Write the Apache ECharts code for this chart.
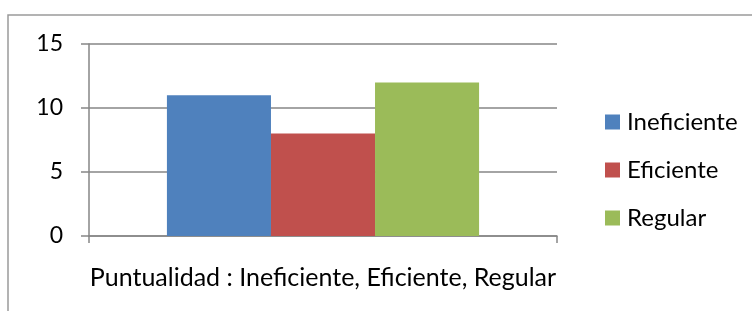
<!DOCTYPE html>
<html><head><meta charset="utf-8">
<script src="https://cdn.jsdelivr.net/npm/echarts@6/dist/echarts.min.js"></script>
<style>html,body{margin:0;padding:0;background:#fff}#c{width:752px;height:311px}</style>
</head><body><div id="c"></div>
<script>
const categories = ['Puntualidad : Ineficiente, Eficiente, Regular'];
const seriesNames = ['Ineficiente', 'Eficiente', 'Regular'];
const ineficiente = [11];
const eficiente = [8];
const regular = [12];
const yTicks = [0, 5, 10, 15];
const colors = ['#4f81bd', '#c0504d', '#9bbb59'];
const values = [ineficiente, eficiente, regular];
const FONT = 'Lato';
const chart = echarts.init(document.getElementById('c'), null, {renderer: 'canvas'});
chart.setOption({
  animation: false,
  textStyle: {fontFamily: FONT},
  graphic: [{type: 'rect', shape: {x: 8, y: 15, width: 900, height: 500}, style: {fill: 'none', stroke: '#9a9a9a', lineWidth: 1.5}, z: -1}],
  grid: {left: 89, top: 44, width: 468, height: 192},
  legend: {
    orient: 'vertical', left: 600, top: 105, itemWidth: 15, itemHeight: 15, itemGap: 24,
    icon: 'rect', data: seriesNames,
    textStyle: {fontFamily: FONT, fontSize: 24, color: '#000', padding: [0, 0, 0, 2]}
  },
  xAxis: {
    type: 'category', data: categories,
    axisLine: {lineStyle: {color: '#868686', width: 1.5}},
    axisTick: {show: true, length: 7, lineStyle: {color: '#868686', width: 1.5}},
    axisLabel: {fontFamily: FONT, fontSize: 25, color: '#000', margin: 29}
  },
  yAxis: {
    type: 'value', min: yTicks[0], max: yTicks[yTicks.length - 1], interval: 5,
    axisLine: {show: true, lineStyle: {color: '#868686', width: 1.5}},
    axisTick: {show: true, length: 8, lineStyle: {color: '#868686', width: 1.5}},
    splitLine: {lineStyle: {color: '#868686', width: 1.5}},
    axisLabel: {fontFamily: FONT, fontSize: 23, color: '#000', margin: 26}
  },
  series: seriesNames.map((n, i) => ({
    name: n, type: 'bar', data: values[i], barGap: 0, barCategoryGap: '33.3%',
    itemStyle: {color: colors[i]}
  }))
});
</script></body></html>
